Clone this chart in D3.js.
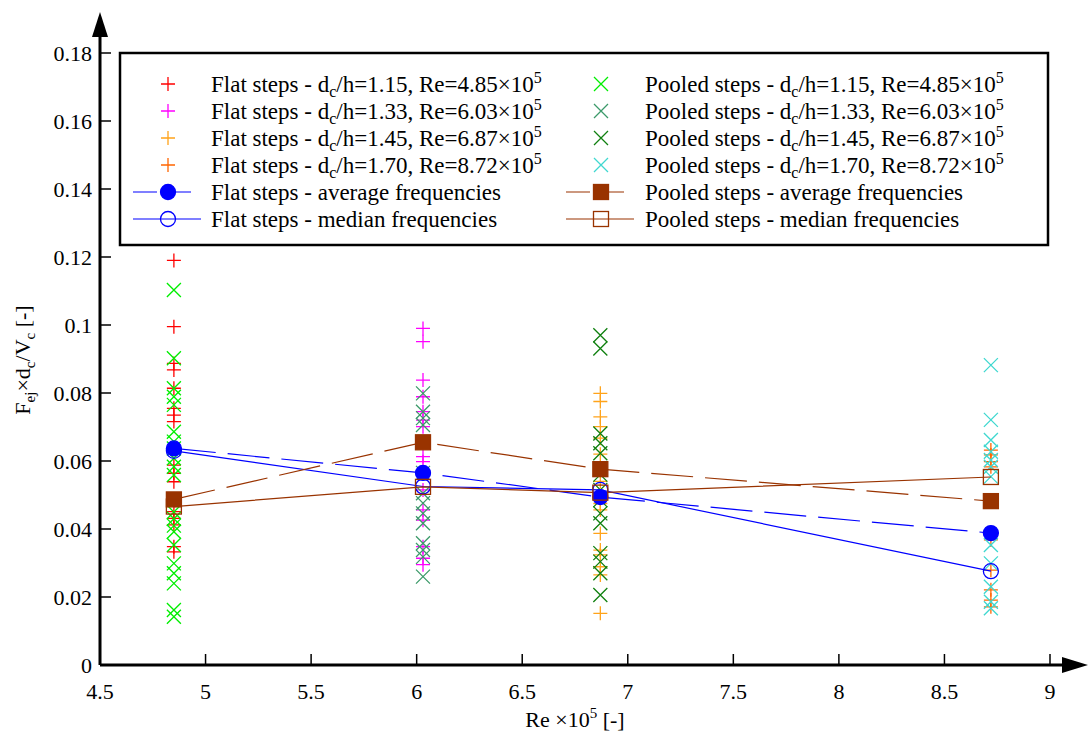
<!DOCTYPE html>
<html>
<head>
<meta charset="utf-8">
<script src="https://cdn.jsdelivr.net/npm/d3@7"></script>
<style>
  body { margin: 0; background: #fff; }
</style>
</head>
<body>
<svg id="chart" width="1090" height="734" font-family="'Liberation Serif', Tinos, 'Times New Roman', Times, 'DejaVu Serif', serif"></svg>
<script>
// Reynolds numbers (x 10^5) for the four runs
const reynolds = [4.85, 6.03, 6.87, 8.72];

// individual ejection frequencies, flat steps
const flat115 = [0.119, 0.0995, 0.0887, 0.0868, 0.0814, 0.0755, 0.0735, 0.0716, 0.0637, 0.0588, 0.0564, 0.0539, 0.0451, 0.0431, 0.0412, 0.0348, 0.0333];
const flat133 = [0.099, 0.0951, 0.0838, 0.0789, 0.0745, 0.072, 0.0701, 0.0613, 0.0598, 0.0565, 0.0515, 0.0456, 0.0426, 0.0348, 0.0314, 0.0295];
const flat145 = [0.0799, 0.0775, 0.073, 0.0701, 0.0667, 0.062, 0.054, 0.0475, 0.0456, 0.0387, 0.0338, 0.0324, 0.0289, 0.0265, 0.0152];
const flat170 = [0.0632, 0.0618, 0.0598, 0.0583, 0.0368, 0.0279, 0.0221, 0.0191, 0.0171];

// individual ejection frequencies, pooled steps
const pooled115 = [0.1103, 0.0902, 0.0814, 0.0789, 0.0765, 0.0686, 0.0657, 0.0637, 0.0608, 0.0583, 0.0559, 0.045, 0.043, 0.041, 0.0392, 0.0353, 0.0299, 0.027, 0.024, 0.0162, 0.0142];
const pooled133 = [0.0799, 0.0745, 0.0726, 0.0706, 0.0565, 0.0505, 0.0476, 0.0446, 0.0417, 0.0358, 0.0338, 0.0318, 0.026];
const pooled145 = [0.097, 0.0931, 0.0681, 0.0652, 0.0623, 0.056, 0.0515, 0.0485, 0.0446, 0.0417, 0.0329, 0.0304, 0.027, 0.0206];
const pooled170 = [0.0882, 0.0721, 0.0662, 0.0627, 0.0603, 0.0583, 0.0554, 0.0353, 0.0299, 0.023, 0.0186, 0.0167];

// averages / medians per Re
const flatAvg = [0.0637, 0.0565, 0.0494, 0.0388];
const flatMed = [0.063, 0.0525, 0.0515, 0.0276];
const pooledAvg = [0.0487, 0.0655, 0.0576, 0.0482];
const pooledMed = [0.0466, 0.0524, 0.0507, 0.0553];

const xTicks = [4.5, 5, 5.5, 6, 6.5, 7, 7.5, 8, 8.5, 9];
const yTicks = [0, 0.02, 0.04, 0.06, 0.08, 0.1, 0.12, 0.14, 0.16, 0.18];

const scatter = [
  {vals: flat115, re: 0, shape: "plus", color: "#ff0000", dc: "1.15", reTxt: "4.85", kind: "Flat"},
  {vals: flat133, re: 1, shape: "plus", color: "#ff00ff", dc: "1.33", reTxt: "6.03", kind: "Flat"},
  {vals: flat145, re: 2, shape: "plus", color: "#ffa31a", dc: "1.45", reTxt: "6.87", kind: "Flat"},
  {vals: flat170, re: 3, shape: "plus", color: "#ff6600", dc: "1.70", reTxt: "8.72", kind: "Flat"},
  {vals: pooled115, re: 0, shape: "cross", color: "#00ee00", dc: "1.15", reTxt: "4.85", kind: "Pooled"},
  {vals: pooled133, re: 1, shape: "cross", color: "#3c9a6a", dc: "1.33", reTxt: "6.03", kind: "Pooled"},
  {vals: pooled145, re: 2, shape: "cross", color: "#108010", dc: "1.45", reTxt: "6.87", kind: "Pooled"},
  {vals: pooled170, re: 3, shape: "cross", color: "#40d8d0", dc: "1.70", reTxt: "8.72", kind: "Pooled"}
];

const BLUE = "#0000ff", BROWN = "#993300";
const summary = [
  {vals: flatAvg, color: BLUE, marker: "circle", filled: true, dash: "42,12", label: "Flat steps - average frequencies"},
  {vals: flatMed, color: BLUE, marker: "circle", filled: false, dash: null, label: "Flat steps - median frequencies"},
  {vals: pooledAvg, color: BROWN, marker: "square", filled: true, dash: "42,12", label: "Pooled steps - average frequencies"},
  {vals: pooledMed, color: BROWN, marker: "square", filled: false, dash: null, label: "Pooled steps - median frequencies"}
];

const svg = d3.select("#chart");
const x = d3.scaleLinear().domain([4.5, 9]).range([100, 1050]);
const y = d3.scaleLinear().domain([0, 0.18]).range([665, 53]);

function drawMarker(g, shape, color, filled) {
  if (shape === "plus") {
    g.append("path").attr("d", "M-7,0H7M0,-7V7").attr("stroke", color).attr("stroke-width", 1.3).attr("fill", "none");
  } else if (shape === "cross") {
    g.append("path").attr("d", "M-7,-7L7,7M-7,7L7,-7").attr("stroke", color).attr("stroke-width", 1.3).attr("fill", "none");
  } else if (shape === "circle") {
    g.append("circle").attr("r", 7.5).attr("fill", filled ? color : "none").attr("stroke", color).attr("stroke-width", 1.3);
  } else {
    g.append("rect").attr("x", -7.5).attr("y", -7.5).attr("width", 15).attr("height", 15)
      .attr("fill", filled ? color : "none").attr("stroke", color).attr("stroke-width", 1.3);
  }
}

// scatter points
scatter.forEach(s => {
  s.vals.forEach(v => {
    const g = svg.append("g").attr("transform", `translate(${x(reynolds[s.re])},${y(v)})`);
    drawMarker(g, s.shape, s.color);
  });
});

// average / median lines and markers
const line = d3.line().x((d, i) => x(reynolds[i])).y(d => y(d));
summary.forEach(s => {
  svg.append("path").attr("d", line(s.vals)).attr("fill", "none")
    .attr("stroke", s.color).attr("stroke-width", 1.2)
    .attr("stroke-dasharray", s.dash);
});
summary.forEach(s => {
  s.vals.forEach((v, i) => {
    const g = svg.append("g").attr("transform", `translate(${x(reynolds[i])},${y(v)})`);
    drawMarker(g, s.marker, s.color, s.filled);
  });
});

// axes
const axisG = svg.append("g");
axisG.append("line").attr("x1", 100).attr("x2", 1066).attr("y1", 665).attr("y2", 665).attr("stroke", "#000").attr("stroke-width", 3);
axisG.append("line").attr("x1", 100).attr("x2", 100).attr("y1", 665).attr("y2", 34).attr("stroke", "#000").attr("stroke-width", 3);
axisG.append("path").attr("d", "M1088,665L1062,657L1062,673Z").attr("fill", "#000");
axisG.append("path").attr("d", "M100,12L92,37L108,37Z").attr("fill", "#000");

xTicks.forEach(t => {
  axisG.append("line").attr("x1", x(t)).attr("x2", x(t)).attr("y1", 665).attr("y2", 654).attr("stroke", "#000").attr("stroke-width", 1.5);
  axisG.append("text").attr("x", x(t)).attr("y", 699).attr("text-anchor", "middle").attr("font-size", 22).text(t);
});
yTicks.forEach(t => {
  axisG.append("line").attr("x1", 100).attr("x2", 111).attr("y1", y(t)).attr("y2", y(t)).attr("stroke", "#000").attr("stroke-width", 1.5);
  axisG.append("text").attr("x", 92).attr("y", y(t) + 8).attr("text-anchor", "end").attr("font-size", 22).text(t);
});

// axis titles
const xl = svg.append("text").attr("x", 575).attr("y", 727).attr("text-anchor", "middle").attr("font-size", 22);
xl.append("tspan").text("Re \u00d710");
xl.append("tspan").attr("font-size", 15).attr("dy", -9).text("5");
xl.append("tspan").attr("dy", 9).text(" [-]");

const yl = svg.append("text").attr("transform", "translate(30,360) rotate(-90)").attr("text-anchor", "middle").attr("font-size", 22);
yl.append("tspan").text("F");
yl.append("tspan").attr("font-size", 15).attr("dy", 5).text("ej");
yl.append("tspan").attr("dy", -5).text("\u00d7d");
yl.append("tspan").attr("font-size", 15).attr("dy", 5).text("c");
yl.append("tspan").attr("dy", -5).text("/V");
yl.append("tspan").attr("font-size", 15).attr("dy", 5).text("c");
yl.append("tspan").attr("dy", -5).text(" [-]");

// legend
const leg = svg.append("g");
leg.append("rect").attr("x", 120).attr("y", 53).attr("width", 928).attr("height", 192)
  .attr("fill", "#fff").attr("stroke", "#000").attr("stroke-width", 2.5);

const rowY = i => 84 + i * 27;
scatter.forEach((s, k) => {
  const col = k < 4 ? 0 : 1, row = k % 4;
  const mx = col === 0 ? 168 : 601, tx = col === 0 ? 211 : 645;
  const g = leg.append("g").attr("transform", `translate(${mx},${rowY(row)})`);
  drawMarker(g, s.shape, s.color);
  const t = leg.append("text").attr("x", tx).attr("y", rowY(row) + 8).attr("font-size", 23);
  t.append("tspan").text(`${s.kind} steps - d`);
  t.append("tspan").attr("font-size", 16).attr("dy", 5).text("c");
  t.append("tspan").attr("dy", -5).text(`/h=${s.dc}, Re=${s.reTxt}\u00d710`);
  t.append("tspan").attr("font-size", 16).attr("dy", -9).text("5");
});
summary.forEach((s, k) => {
  const col = k < 2 ? 0 : 1, row = 4 + (k % 2);
  const mx = col === 0 ? 168 : 601, tx = col === 0 ? 211 : 645;
  const x0 = mx - 35, x1 = mx + 33;
  leg.append("line").attr("x1", x0).attr("x2", x1).attr("y1", rowY(row)).attr("y2", rowY(row))
    .attr("stroke", s.color).attr("stroke-width", 1.2).attr("stroke-dasharray", s.dash ? "24,10" : null);
  const g = leg.append("g").attr("transform", `translate(${mx},${rowY(row)})`);
  drawMarker(g, s.marker, s.color, s.filled);
  leg.append("text").attr("x", tx).attr("y", rowY(row) + 8).attr("font-size", 23).text(s.label);
});
</script>
</body>
</html>
